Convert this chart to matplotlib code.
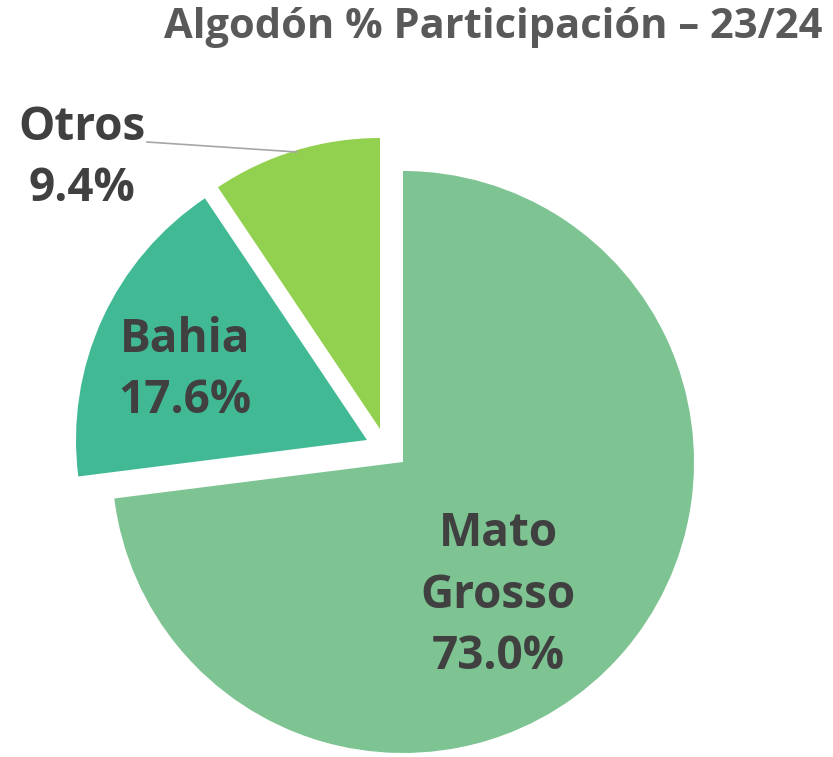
import matplotlib.pyplot as plt

# datos
regiones = ['Mato Grosso', 'Bahia', 'Otros']
participacion = [73.0, 17.6, 9.4]
etiquetas = ['Mato\nGrosso\n73.0%', 'Bahia\n17.6%', 'Otros\n9.4%']
colores = ['#7DC492', '#42B995', '#92D050']

plt.rcParams['font.family'] = ['Open Sans', 'DejaVu Sans']

fig = plt.figure(figsize=(8.33, 7.57), dpi=100)
ax = fig.add_axes([0, 0, 1, 1])

# centro y radio en pixeles de la figura
cx, cy, r = 403, 295, 291
wedges, _ = ax.pie(participacion, colors=colores, startangle=90, counterclock=False,
                   center=(cx, cy), radius=r, wedgeprops=dict(linewidth=0))

# desplazamiento de las porciones Bahia y Otros
offsets = [(0, 0), (-36, 22), (-23, 33)]
for w, (dx, dy) in zip(wedges, offsets):
    w.set_center((cx + dx, cy + dy))

ax.set_xlim(0, 833)
ax.set_ylim(0, 757)
ax.set_aspect('auto')
ax.axis('off')

color_txt = '#404040'
ax.text(498, 162, etiquetas[0], ha='center', va='center', fontsize=33,
        fontweight='bold', color=color_txt, linespacing=1.4)
ax.text(185, 387, etiquetas[1], ha='center', va='center', fontsize=33,
        fontweight='bold', color=color_txt, linespacing=1.4)
ax.text(82, 599, etiquetas[2], ha='center', va='center', fontsize=33,
        fontweight='bold', color=color_txt, linespacing=1.4)
ax.plot([147, 297], [615, 605], color='#A6A6A6', linewidth=1.2)

ax.text(822, 730, 'Algodón % Participación – 23/24', ha='right', va='center',
        fontsize=30, fontweight='bold', color='#595959')

fig.savefig('out.png', dpi=100)
